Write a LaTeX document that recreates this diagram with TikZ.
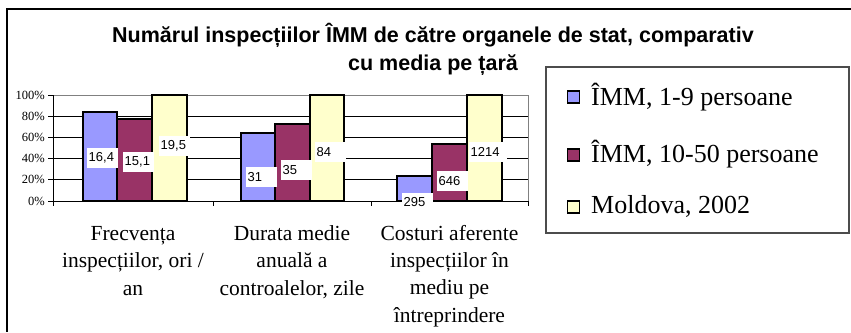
\documentclass[tikz,border=0pt]{standalone}
\usepackage{fontspec}
\setmainfont{Liberation Serif}
\newfontfamily\arial{Liberation Sans}
\usetikzlibrary{positioning}
\definecolor{barblue}{HTML}{9999FF}
\definecolor{barplum}{HTML}{993366}
\definecolor{barcream}{HTML}{FFFFCC}

\begin{document}
\begin{tikzpicture}[x=1pt, y=-1pt,
  bar/.style={draw=black, line width=2.4pt},
  val/.style={fill=white, anchor=north west, inner xsep=1.5pt, inner ysep=0pt, minimum height=20pt, text width=28pt, align=left, font=\arial\fontsize{13}{13}\selectfont},
  key/.style={draw=black, line width=1.3pt, minimum size=12pt, inner sep=0pt},
  keytext/.style={anchor=base west, inner sep=0pt, font=\fontsize{26}{26}\selectfont},
  cat/.style={anchor=base, align=center, inner sep=0pt, font=\fontsize{21.5}{27.3}\selectfont},
  ylab/.style={anchor=east, inner sep=0pt, font=\fontsize{12.5}{12.5}\selectfont}]
\useasboundingbox (0,0) rectangle (851,332);
\draw[line width=1.2pt] (851,9) -- (7,9) -- (7,332);

% title (base = last line)
\node[anchor=base, align=center, inner sep=0pt, font=\arial\bfseries\fontsize{21.5}{28}\selectfont] (title) at (433,70)
  {Numărul inspecțiilor ÎMM de către organele de stat, comparativ\\cu media pe țară};

% grid and axes
\foreach \p/\y in {0/201,20/179.8,40/158.6,60/137.4,80/116.2,100/95} {
  \draw[line width=0.8pt] (48,\y) -- (53,\y);
  \node[ylab] (y\p) at (45,\y) {\p\%};
}
\foreach \y in {179.8,158.6,137.4,116.2} \draw[line width=0.8pt] (53,\y) -- (528,\y);
\draw[gray, line width=1pt] (53,95) -- (528,95) -- (528,201);
\draw[line width=1pt] (53,95) -- (53,206) (53,201) -- (528,201);
\draw[line width=1pt] (213,201) -- (213,206) (371,201) -- (371,206) (528,201) -- (528,206);

% bars
\draw[bar, fill=barblue]  (83,201) rectangle (117,112);
\draw[bar, fill=barplum]  (117,201) rectangle (152,119);
\draw[bar, fill=barcream] (152,201) rectangle (187,95);
\draw[bar, fill=barblue]  (241,201) rectangle (275,133);
\draw[bar, fill=barplum]  (275,201) rectangle (310,124);
\draw[bar, fill=barcream] (310,201) rectangle (344,95);
\draw[bar, fill=barblue]  (397,201) rectangle (432,176);
\draw[bar, fill=barplum]  (432,201) rectangle (467,144);
\draw[bar, fill=barcream] (467,201) rectangle (502,95);

% value labels
\node[val] (v1a) at (87,148) {16,4};
\node[val] (v1b) at (123,152) {15,1};
\node[val] (v1c) at (159,136) {19,5};
\node[val] (v2a) at (246,167) {31};
\node[val] (v2b) at (281,160) {35};
\node[val] (v2c) at (315,142) {84};
\node[val, minimum height=17pt] (v3a) at (402,193) {295};
\node[val] (v3b) at (437,171) {646};
\node[val, text width=35pt] (v3c) at (469,142) {1214};

% categories (base = last line)
\node[cat] (c1) at (133,295) {Frecvența\\inspecțiilor, ori /\\an};
\node[cat] (c2) at (292,295) {Durata medie\\anuală a\\controalelor, zile};
\node[cat] (c3) at (449.5,322) {Costuri aferente\\inspecțiilor în\\mediu pe\\întreprindere};

% legend
\draw[gray!60!black, line width=1.2pt] (546,67) rectangle (849,233);
\node[key, fill=barblue]  (k1) at (573.5,97) {};
\node[key, fill=barplum]  (k2) at (573.5,155) {};
\node[key, fill=barcream] (k3) at (573.5,207) {};
\node[keytext] (t1) at (591,105) {ÎMM, 1-9 persoane};
\node[keytext] (t2) at (591,162) {ÎMM, 10-50 persoane};
\node[keytext] (t3) at (591,213) {Moldova, 2002};
\end{tikzpicture}
\end{document}
